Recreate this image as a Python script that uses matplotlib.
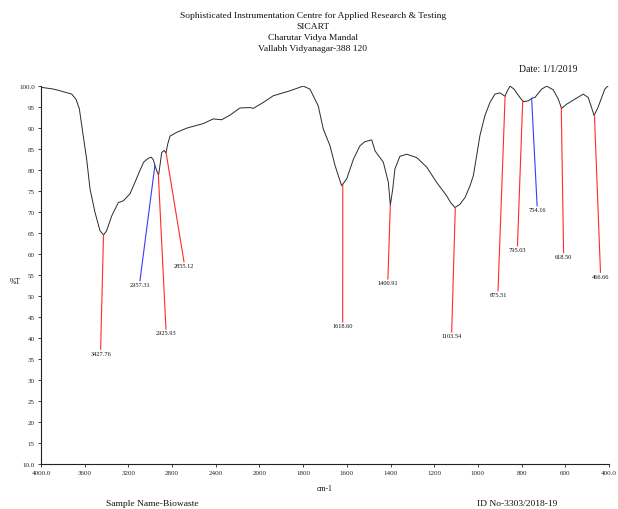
import numpy as np
import matplotlib
matplotlib.use("Agg")
import matplotlib.pyplot as plt

plt.rcParams['font.family'] = ['Liberation Serif', 'DejaVu Serif']

# ---- data ----
wavenumber = [4000, 3994, 3887, 3826, 3719, 3680, 3649, 3618, 3582, 3551, 3506, 3460,
              3428, 3399, 3353, 3292, 3247, 3185, 3140, 3100, 3060, 3020, 2990, 2970,
              2957, 2935, 2923, 2911, 2895, 2874, 2856, 2840, 2819, 2758, 2666, 2514,
              2423, 2346, 2270, 2179, 2087, 2057, 1983, 1937, 1860, 1800, 1769, 1731,
              1708, 1677, 1654, 1624, 1601, 1570, 1540, 1517, 1486, 1471, 1433, 1410,
              1401, 1390, 1380, 1357, 1326, 1280, 1234, 1189, 1166, 1143, 1125, 1105,
              1082, 1059, 1036, 1021, 1006, 991, 968, 945, 922, 899, 876, 865, 853,
              835, 808, 792, 769, 754, 739, 708, 685, 655, 632, 617, 594, 556, 518,
              495, 468, 450, 419, 404, 400]
transmittance = [99.6, 99.6, 99.2, 98.8, 98.0, 96.8, 94.5, 88.9, 82.5, 75.4, 69.9, 65.5,
                 64.5, 65.5, 69.0, 72.2, 72.6, 74.3, 77.0, 79.5, 81.8, 82.7, 83.0, 82.3,
                 81.0, 79.4, 78.8, 81.0, 84.1, 84.6, 84.0, 86.1, 88.0, 88.9, 89.9, 91.0,
                 92.1, 91.9, 93.0, 94.7, 94.8, 94.6, 96.0, 97.6, 98.8, 99.9, 99.2, 95.2,
                 89.7, 85.7, 81.0, 76.2, 77.8, 82.5, 85.7, 86.7, 87.1, 84.5, 81.8, 77.0,
                 71.6, 75.4, 80.2, 83.2, 83.7, 82.9, 80.6, 77.0, 75.4, 73.8, 72.2, 71.0,
                 71.8, 73.4, 76.2, 78.6, 83.3, 88.1, 92.9, 96.0, 98.0, 98.3, 97.5, 98.8, 99.9,
                 99.2, 97.2, 96.2, 96.4, 97.0, 97.2, 99.2, 99.9, 99.0, 96.8, 94.6, 95.6, 96.8, 98.0,
                 97.2, 92.9, 94.9, 99.2, 100.0, 100.0]

peak_labels = ["3427.76", "2957.31", "2925.93", "2855.12", "1618.60", "1400.91",
               "1103.54", "875.51", "795.03", "754.16", "618.50", "466.66"]
peak_positions = [3427.76, 2957.31, 2925.93, 2855.12, 1618.60, 1400.91,
                  1103.54, 875.51, 795.03, 754.16, 618.50, 466.66]
label_end_wavenumber = [3454, 3094, 2856, 2691, 1619, 1412, 1120, 908, 819, 729, 608, 439]
label_end_transmittance = [37.3, 53.6, 42.1, 58.1, 43.8, 54.0, 41.4, 51.2, 61.9, 71.4, 60.3, 55.6]
peak_colors = ["red", "blue", "red", "red", "red", "red",
               "red", "red", "red", "blue", "red", "red"]

x_ticks = [4000, 3600, 3200, 2800, 2400, 2000, 1800, 1600, 1400, 1200, 1000, 800, 600, 400]
x_ticklabels = ["4000.0", "3600", "3200", "2800", "2400", "2000", "1800", "1600",
                "1400", "1200", "1000", "800", "600", "400.0"]
y_ticks = [10, 15, 20, 25, 30, 35, 40, 45, 50, 55, 60, 65, 70, 75, 80, 85, 90, 95, 100]
y_ticklabels = ["10.0"] + [str(v) for v in y_ticks[1:-1]] + ["100.0"]

title_lines = ["Sophisticated Instrumentation Centre for Applied Research & Testing",
               "SICART", "Charutar Vidya Mandal", "Vallabh Vidyanagar-388 120"]


# ---- axis scale: 2000 cm-1 expansion (x2 below 2000) ----
def fwd(w):
    w = np.asarray(w, dtype=float)
    return np.where(w >= 2000, w, 2 * w - 2000)


def inv(u):
    u = np.asarray(u, dtype=float)
    return np.where(u >= 2000, u, (u + 2000) / 2)


fig = plt.figure(figsize=(6.18, 5.10), dpi=100)
ax = fig.add_axes([41 / 618, 45 / 510, 568 / 618, (465 - 86.7) / 510])
ax.set_xscale('function', functions=(fwd, inv))
ax.set_xlim(4000, 400)
ax.set_ylim(10, 100)

ax.plot(wavenumber, transmittance, color='#2a2a2a', lw=0.7)

red = '#ff2a2a'
blue = '#3a3aff'
wn_sorted = np.array(wavenumber[::-1], dtype=float)
tr_sorted = np.array(transmittance[::-1], dtype=float)
for lab, pw, ew, et, c in zip(peak_labels, peak_positions, label_end_wavenumber,
                              label_end_transmittance, peak_colors):
    pt = np.interp(pw, wn_sorted, tr_sorted)
    ax.plot([pw, ew], [pt, et], color=red if c == "red" else blue, lw=0.8)
    ax.annotate(lab, xy=(ew, et), xytext=(0, -1), textcoords='offset points',
                ha='center', va='top', fontsize=4.6, color='#111111')

ax.set_xticks(x_ticks)
ax.set_xticklabels(x_ticklabels)
ax.set_yticks(y_ticks)
ax.set_yticklabels(y_ticklabels)
ax.minorticks_off()
ax.tick_params(axis='both', direction='out', length=2.5, width=0.6,
               labelsize=5, pad=2, colors='#222222')
for s in ['top', 'right']:
    ax.spines[s].set_visible(False)
for s in ['left', 'bottom']:
    ax.spines[s].set_linewidth(0.8)
    ax.spines[s].set_color('#222222')

# ---- text ----
for i, line in enumerate(title_lines):
    fig.text(313 / 618, 1 - (16 + 11 * i) / 510, line, ha='center', va='center',
             fontsize=6.8, color='#111111')
fig.text(548 / 618, 1 - 70 / 510, "Date: 1/1/2019", ha='center', va='center',
         fontsize=7, color='#111111')
fig.text(15 / 618, 1 - 282 / 510, "%T", ha='center', va='center', fontsize=5.5,
         color='#111111')
fig.text(325 / 618, 1 - 489 / 510, "cm-1", ha='center', va='center', fontsize=5.5,
         color='#111111')
fig.text(152 / 618, 1 - 504 / 510, "Sample Name-Biowaste", ha='center', va='center',
         fontsize=6.8, color='#111111')
fig.text(517 / 618, 1 - 504 / 510, "ID No-3303/2018-19", ha='center', va='center',
         fontsize=6.8, color='#111111')

fig.savefig("out.png", dpi=100)
